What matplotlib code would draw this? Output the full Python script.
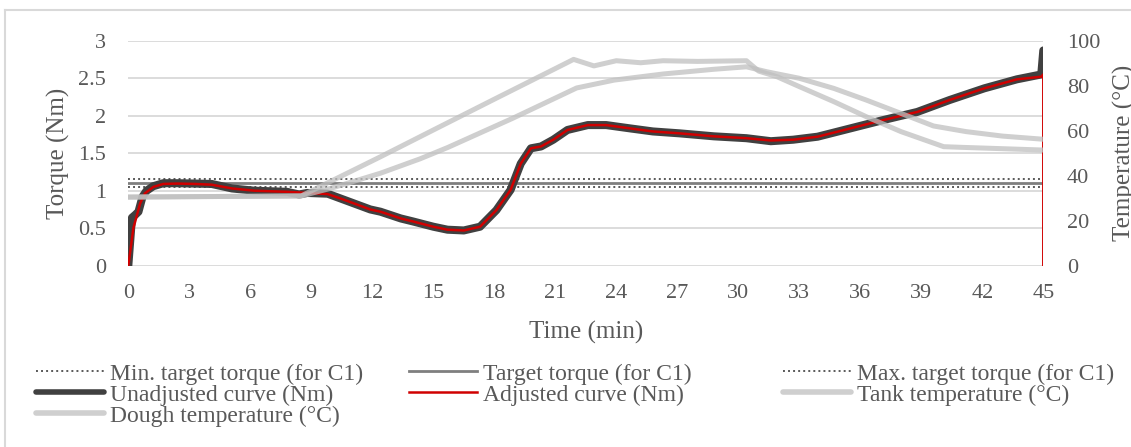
import matplotlib
matplotlib.use("Agg")
import matplotlib.pyplot as plt
from matplotlib.lines import Line2D

plt.rcParams['font.family'] = ['Liberation Serif', 'DejaVu Serif']

# --- data ---
time_adj = [0, 0.25, 0.58, 0.82, 1.23, 1.72, 2.4, 3.3, 4.1, 5.1, 6.2, 7.8, 8.8, 9.8, 10.5,
            11.9, 12.4, 13.4, 14.0, 15.0, 15.7, 16.5, 17.3, 18.1, 18.8, 19.3, 19.8, 20.3,
            20.9, 21.6, 22.6, 23.5, 24.7, 25.8, 27.1, 28.8, 30.4, 31.6, 32.7, 33.9, 35.5,
            37.1, 38.8, 40.4, 42.1, 43.7, 44.9, 45.0, 45.0]
torque_adj = [0, 0.50, 0.83, 0.965, 1.05, 1.09, 1.095, 1.09, 1.08, 1.03, 1.0, 0.985, 0.97,
              0.955, 0.89, 0.75, 0.72, 0.63, 0.59, 0.52, 0.48, 0.47, 0.52, 0.74, 1.01, 1.36,
              1.565, 1.59, 1.68, 1.81, 1.875, 1.875, 1.83, 1.79, 1.765, 1.725, 1.70, 1.67,
              1.68, 1.72, 1.83, 1.94, 2.05, 2.21, 2.365, 2.485, 2.52, 2.55, 0]

time_raw = [0, 0.1, 0.18, 0.35, 0.5, 0.7, 0.9, 1.23, 1.72, 2.4, 3.3, 4.1, 5.1, 6.2, 7.8, 8.4,
            8.8, 9.8, 10.5, 11.9, 12.4, 13.4, 14.0, 15.0, 15.7, 16.5, 17.3, 18.1, 18.8, 19.3,
            19.8, 20.3, 20.9, 21.6, 22.6, 23.5, 24.7, 25.8, 27.1, 28.8, 30.4, 31.6, 32.7,
            33.9, 35.5, 37.1, 38.8, 40.4, 42.1, 43.7, 44.9, 45.0]
torque_raw = [0, 0.35, 0.64, 0.68, 0.72, 0.92, 1.0, 1.06, 1.10, 1.10, 1.095, 1.09, 1.03, 1.0,
              0.985, 0.95, 0.97, 0.96, 0.89, 0.75, 0.72, 0.63, 0.59, 0.52, 0.48, 0.47, 0.52,
              0.74, 1.01, 1.36, 1.565, 1.59, 1.68, 1.81, 1.875, 1.875, 1.83, 1.79, 1.765,
              1.725, 1.70, 1.66, 1.68, 1.72, 1.83, 1.94, 2.05, 2.21, 2.365, 2.485, 2.55, 2.87]

time_tank = [0, 8.5, 12.4, 15, 18, 21, 21.9, 22.9, 24, 25.2, 26.3, 28, 30.4, 31.0, 31.9,
             33.0, 34.7, 36.3, 38.0, 40.1, 41.0, 43, 45]
temp_tank = [30.5, 31, 48.4, 60.3, 74, 87.6, 91.7, 88.8, 91.1, 90.2, 91.1, 90.8, 91.1, 86.5,
             84, 79.6, 72.9, 66.2, 59.6, 52.9, 52.6, 52, 51.4]

time_dough = [0, 8.5, 10, 12.4, 14.35, 15.7, 18.9, 21, 22.05, 23.9, 26.3, 28.8, 30.4, 31.4,
              33, 34.7, 36.3, 38, 39.6, 41.2, 43, 45]
temp_dough = [30.5, 31, 34.5, 41.1, 47.5, 52.5, 65.5, 74.5, 79, 82.5, 85.2, 87.3, 88.4, 86.2,
              83.3, 78.8, 73.6, 67.7, 62.1, 59.6, 57.6, 56.2]

min_target = 1.05
target = 1.10
max_target = 1.15

x_ticks = list(range(0, 46, 3))
y_ticks = [0, 0.5, 1, 1.5, 2, 2.5, 3]
y2_ticks = [0, 20, 40, 60, 80, 100]

TXT = '#595959'
GRID = '#d9d9d9'
TEMP = '#bfbfbf'

fig = plt.figure(figsize=(11.31, 4.47), dpi=100)
ax = fig.add_axes([128.3 / 1131, 181.3 / 447, 915 / 1131, 225 / 447])
ax2 = ax.twinx()

for a in (ax, ax2):
    for s in a.spines.values():
        s.set_visible(False)

ax.set_xlim(0, 45)
ax.set_ylim(0, 3)
ax2.set_ylim(0, 100)
ax.set_xticks(x_ticks)
ax.set_yticks(y_ticks)
ax.set_yticklabels(['0', '0.5', '1', '1.5', '2', '2.5', '3'])
ax2.set_yticks(y2_ticks)
ax.grid(axis='y', color=GRID, lw=1.3)
ax.set_axisbelow(True)

ax.tick_params(axis='x', length=0, pad=13, labelsize=16, labelcolor=TXT)
ax.tick_params(axis='y', length=0, pad=16, labelsize=16, labelcolor=TXT)
ax2.tick_params(axis='y', length=0, pad=17, labelsize=16, labelcolor=TXT)

ax.set_xlabel('Time (min)', fontsize=18, color=TXT)
ax.xaxis.set_label_coords(0.5, -0.245)
ax.set_ylabel('Torque (Nm)', fontsize=18, color=TXT)
ax.yaxis.set_label_coords(-0.064, 0.5)
ax2.set_ylabel('Temperature (°C)', fontsize=18, color=TXT)
ax2.yaxis.set_label_coords(1.076, 0.5)

# target torque lines
l_min = ax.axhline(min_target, color='#595959', lw=1.4, ls=(0, (1, 1.6)))
l_tgt = ax.axhline(target, color='#7f7f7f', lw=2.0)
l_max = ax.axhline(max_target, color='#595959', lw=1.4, ls=(0, (1, 1.6)))

# torque curves
l_raw, = ax.plot(time_raw, torque_raw, color='#404040', lw=5.8, solid_capstyle='round',
                 solid_joinstyle='round')
l_adj, = ax.plot(time_adj, torque_adj, color='#d00000', lw=1.8)

# temperatures (right axis)
l_tank, = ax2.plot(time_tank, temp_tank, color=TEMP, lw=3.6, alpha=0.75)
l_dough, = ax2.plot(time_dough, temp_dough, color=TEMP, lw=3.6, alpha=0.75)

# legend, three equal-width columns like the original
leg_kw = dict(loc='upper left', frameon=False, fontsize=17, labelcolor=TXT,
              handlelength=2.9, handletextpad=0.25, labelspacing=-0.02,
              borderpad=0, borderaxespad=0)
h_raw = Line2D([], [], color='#404040', lw=4, solid_capstyle='round')
h_tank = Line2D([], [], color=TEMP, lw=4, alpha=0.75, solid_capstyle='round')
h_dough = Line2D([], [], color=TEMP, lw=4, alpha=0.75, solid_capstyle='round')
leg_top = 1 - 363 / 447
fig.legend([l_min, h_raw, h_dough],
           ['Min. target torque (for C1)', 'Unadjusted curve (Nm)', 'Dough temperature (°C)'],
           bbox_to_anchor=(36 / 1131, leg_top), **leg_kw)
fig.legend([l_tgt, l_adj], ['Target torque (for C1)', 'Adjusted curve (Nm)'],
           bbox_to_anchor=(409 / 1131, leg_top), **leg_kw)
fig.legend([l_max, h_tank], ['Max. target torque (for C1)', 'Tank temperature (°C)'],
           bbox_to_anchor=(783 / 1131, leg_top), **leg_kw)

# chart area border (left and top visible)
fig.add_artist(Line2D([5 / 1131, 5 / 1131], [0, 1 - 10 / 447], transform=fig.transFigure,
                      color=GRID, lw=1.5))
fig.add_artist(Line2D([5 / 1131, 1], [1 - 10 / 447, 1 - 10 / 447], transform=fig.transFigure,
                      color=GRID, lw=1.5))

fig.savefig('out.png', dpi=100)
